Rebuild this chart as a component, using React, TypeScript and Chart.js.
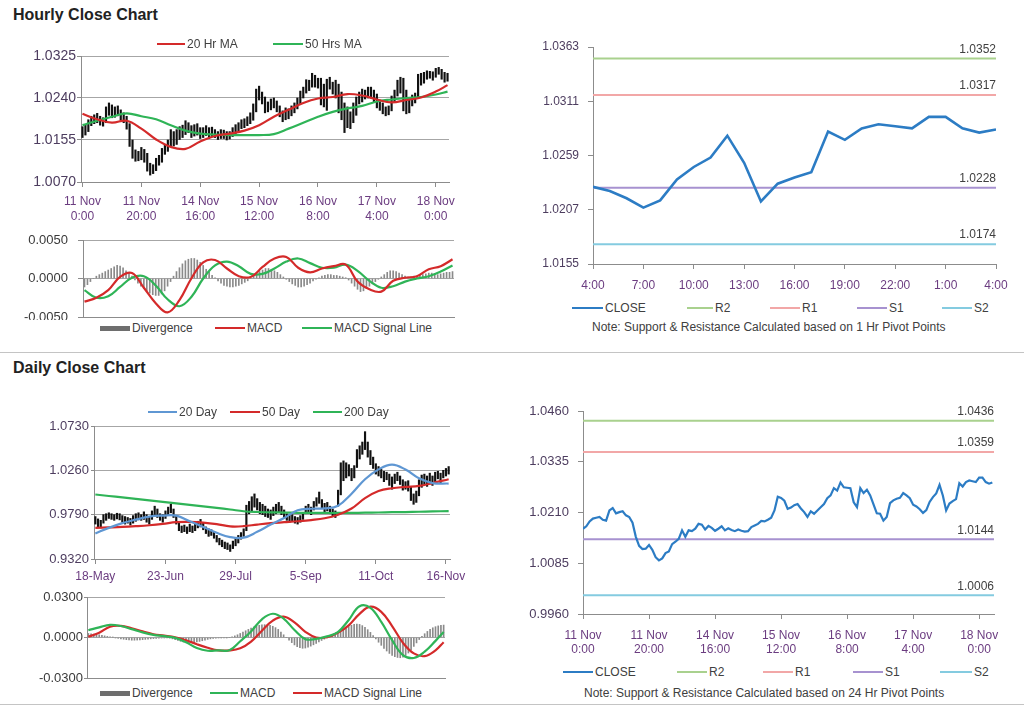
import React, { useEffect, useRef } from 'react';
import { Chart, registerables } from 'chart.js';
Chart.register(...registerables);

const FONT = '"Liberation Sans", Arial, sans-serif';

// ---------- Hourly data (index 0 = 11 Nov 0:00, one bar per hour) ----------
const hourlyClose = [
  1.0170, 1.0176, 1.0188, 1.0195, 1.0197, 1.0199, 1.0192, 1.0190, 1.0215, 1.0221,
  1.0208, 1.0211, 1.0213, 1.0203, 1.0199, 1.0185, 1.0150, 1.0128, 1.0120, 1.0121,
  1.0130, 1.0118, 1.0100, 1.0092, 1.0097, 1.0110, 1.0114, 1.0132, 1.0138, 1.0145,
  1.0166, 1.0150, 1.0166, 1.0164, 1.0170, 1.0182, 1.0180, 1.0168, 1.0177, 1.0172,
  1.0165, 1.0170, 1.0176, 1.0166, 1.0171, 1.0167, 1.0164, 1.0168, 1.0165, 1.0163,
  1.0164, 1.0174, 1.0178, 1.0182, 1.0189, 1.0188, 1.0192, 1.0197, 1.0215, 1.0249,
  1.0246, 1.0239, 1.0219, 1.0222, 1.0228, 1.0231, 1.0220, 1.0211, 1.0199, 1.0213,
  1.0207, 1.0215, 1.0223, 1.0231, 1.0245, 1.0252, 1.0270, 1.0264, 1.0284, 1.0272,
  1.0271, 1.0270, 1.0235, 1.0223, 1.0270, 1.0258, 1.0266, 1.0252, 1.0230, 1.0208,
  1.0207, 1.0190, 1.0199, 1.0233, 1.0240, 1.0244, 1.0246, 1.0258, 1.0252, 1.0245,
  1.0229, 1.0225, 1.0218, 1.0209, 1.0216, 1.0236, 1.0248, 1.0257, 1.0278, 1.0252,
  1.0215, 1.0232, 1.0238, 1.0243, 1.0282, 1.0274, 1.0285, 1.0289, 1.0287, 1.0285,
  1.0296, 1.0296, 1.0285, 1.0281, 1.0284,
];
const hourlyHigh = [
  1.0182, 1.0186, 1.0196, 1.0203, 1.0206, 1.0209, 1.0203, 1.0200, 1.0222, 1.0230,
  1.0226, 1.0222, 1.0224, 1.0216, 1.0210, 1.0203, 1.0188, 1.0155, 1.0135, 1.0132,
  1.0140, 1.0136, 1.0128, 1.0108, 1.0105, 1.0118, 1.0124, 1.0138, 1.0146, 1.0155,
  1.0176, 1.0172, 1.0176, 1.0182, 1.0185, 1.0194, 1.0190, 1.0184, 1.0186, 1.0188,
  1.0180, 1.0180, 1.0184, 1.0180, 1.0181, 1.0176, 1.0172, 1.0176, 1.0175, 1.0172,
  1.0172, 1.0180, 1.0186, 1.0190, 1.0196, 1.0198, 1.0202, 1.0210, 1.0228, 1.0258,
  1.0264, 1.0252, 1.0242, 1.0232, 1.0238, 1.0240, 1.0234, 1.0224, 1.0214, 1.0220,
  1.0218, 1.0224, 1.0230, 1.0240, 1.0254, 1.0262, 1.0277, 1.0276, 1.0290, 1.0286,
  1.0280, 1.0280, 1.0268, 1.0278, 1.0282, 1.0272, 1.0276, 1.0268, 1.0252, 1.0230,
  1.0222, 1.0212, 1.0230, 1.0242, 1.0252, 1.0258, 1.0256, 1.0262, 1.0262, 1.0256,
  1.0248, 1.0236, 1.0230, 1.0222, 1.0224, 1.0244, 1.0256, 1.0276, 1.0282, 1.0280,
  1.0256, 1.0240, 1.0246, 1.0250, 1.0288, 1.0290, 1.0292, 1.0295, 1.0294, 1.0293,
  1.0300, 1.0302, 1.0298, 1.0292, 1.0290,
];
const hourlyLow = [
  1.0160, 1.0165, 1.0172, 1.0184, 1.0188, 1.0190, 1.0185, 1.0183, 1.0190, 1.0205,
  1.0200, 1.0201, 1.0204, 1.0195, 1.0190, 1.0177, 1.0142, 1.0118, 1.0112, 1.0113,
  1.0115, 1.0110, 1.0092, 1.0084, 1.0087, 1.0093, 1.0104, 1.0110, 1.0126, 1.0132,
  1.0142, 1.0143, 1.0146, 1.0156, 1.0160, 1.0166, 1.0170, 1.0160, 1.0163, 1.0165,
  1.0158, 1.0160, 1.0164, 1.0158, 1.0162, 1.0160, 1.0156, 1.0158, 1.0158, 1.0155,
  1.0157, 1.0162, 1.0168, 1.0172, 1.0178, 1.0180, 1.0184, 1.0188, 1.0195, 1.0212,
  1.0236, 1.0228, 1.0210, 1.0212, 1.0216, 1.0220, 1.0212, 1.0202, 1.0192, 1.0196,
  1.0198, 1.0204, 1.0210, 1.0218, 1.0228, 1.0240, 1.0250, 1.0255, 1.0262, 1.0262,
  1.0260, 1.0226, 1.0222, 1.0215, 1.0258, 1.0248, 1.0240, 1.0210, 1.0196, 1.0170,
  1.0180, 1.0178, 1.0190, 1.0205, 1.0228, 1.0232, 1.0238, 1.0240, 1.0240, 1.0232,
  1.0220, 1.0215, 1.0208, 1.0204, 1.0206, 1.0214, 1.0232, 1.0244, 1.0250, 1.0214,
  1.0208, 1.0210, 1.0224, 1.0230, 1.0240, 1.0266, 1.0270, 1.0278, 1.0280, 1.0276,
  1.0282, 1.0288, 1.0278, 1.0272, 1.0274,
];
const hourlyMAIdx = [0, 5, 10, 15, 20, 25, 30, 35, 40, 45, 50, 55, 60, 65, 70, 75, 80, 85, 90, 95, 100, 105, 110, 115, 120, 124];
const hourlyMA20 = [1.0208, 1.0197, 1.0190, 1.0194, 1.0178, 1.0156, 1.0141, 1.0137, 1.0152, 1.0163, 1.0168, 1.0174, 1.0185, 1.0202, 1.0216, 1.0230, 1.0239, 1.0242, 1.0248, 1.0245, 1.0237, 1.0231, 1.0236, 1.0241, 1.0253, 1.0266];
const hourlyMA50 = [1.0185, 1.0194, 1.0202, 1.0209, 1.0203, 1.0197, 1.0185, 1.0174, 1.0168, 1.0166, 1.0165, 1.0165, 1.0165, 1.0167, 1.0178, 1.0190, 1.0202, 1.0212, 1.0219, 1.0224, 1.0233, 1.0237, 1.0240, 1.0242, 1.0247, 1.0253];
const hourlyMacdIdx = [0, 4, 8, 12, 16, 20, 24, 28, 32, 36, 40, 44, 48, 52, 56, 60, 64, 68, 72, 76, 80, 84, 88, 92, 96, 100, 104, 108, 112, 116, 120, 124];
const hourlyMacd = [-0.0030, -0.0025, -0.0015, 0.0002, 0.0007, -0.0012, -0.0032, -0.0044, -0.0028, 0.0000, 0.0021, 0.0024, 0.0013, 0.0003, 0.0002, 0.0015, 0.0026, 0.0028, 0.0014, 0.0008, 0.0013, 0.0016, 0.0018, -0.0004, -0.0014, -0.0017, -0.0003, 0.0001, 0.0003, 0.0012, 0.0016, 0.0025];
const hourlySignal = [-0.0015, -0.0025, -0.0023, -0.0011, 0.0001, 0.0003, -0.0009, -0.0027, -0.0036, -0.0024, 0.0000, 0.0017, 0.0022, 0.0016, 0.0006, 0.0006, 0.0013, 0.0022, 0.0026, 0.0020, 0.0014, 0.0014, 0.0018, 0.0010, -0.0003, -0.0012, -0.0010, -0.0004, 0.0000, 0.0003, 0.0009, 0.0017];
const hourlyDivergence = [
  -0.0011, -0.0008, -0.0004, 0.0000, 0.0003, 0.0005, 0.0007, 0.0009, 0.0011, 0.0013,
  0.0015, 0.0017, 0.0016, 0.0014, 0.0010, 0.0007, 0.0003, -0.0002, -0.0006, -0.0010,
  -0.0013, -0.0016, -0.0019, -0.0021, -0.0022, -0.0022, -0.0020, -0.0016, -0.0010, -0.0004,
  0.0003, 0.0009, 0.0014, 0.0019, 0.0023, 0.0025, 0.0026, 0.0026, 0.0024, 0.0021,
  0.0017, 0.0012, 0.0008, 0.0004, 0.0001, -0.0003, -0.0006, -0.0009, -0.0010, -0.0011,
  -0.0011, -0.0010, -0.0009, -0.0007, -0.0005, -0.0003, 0.0000, 0.0003, 0.0006, 0.0009,
  0.0011, 0.0013, 0.0013, 0.0012, 0.0010, 0.0008, 0.0005, 0.0002, -0.0001, -0.0004,
  -0.0007, -0.0009, -0.0011, -0.0011, -0.0010, -0.0008, -0.0006, -0.0003, -0.0001, 0.0001,
  0.0003, 0.0004, 0.0005, 0.0005, 0.0004, 0.0004, 0.0003, 0.0002, 0.0001, -0.0002,
  -0.0006, -0.0010, -0.0014, -0.0017, -0.0016, -0.0013, -0.0010, -0.0007, -0.0004, -0.0001,
  0.0002, 0.0005, 0.0008, 0.0010, 0.0010, 0.0009, 0.0007, 0.0005, 0.0003, 0.0002,
  0.0002, 0.0003, 0.0003, 0.0004, 0.0005, 0.0006, 0.0007, 0.0007, 0.0006, 0.0005,
  0.0006, 0.0007, 0.0008, 0.0008, 0.0009,
];
const hourlyTickIdx = [0, 20, 40, 60, 80, 100, 120];
const hourlyTickLabels = [['11 Nov', '0:00'], ['11 Nov', '20:00'], ['14 Nov', '16:00'], ['15 Nov', '12:00'], ['16 Nov', '8:00'], ['17 Nov', '4:00'], ['18 Nov', '0:00']];
const hourlyPriceTicks = [1.0070, 1.0155, 1.0240, 1.0325];
const hourlyMacdTicks = [-0.0050, 0.0000, 0.0050];

// ---------- 1 Hr pivot chart (last 24 hours, 4:00 to 4:00) ----------
const sessionStart = 100;
const sessionTickIdx = [0, 3, 6, 9, 12, 15, 18, 21, 24];
const sessionTickLabels = ['4:00', '7:00', '10:00', '13:00', '16:00', '19:00', '22:00', '1:00', '4:00'];
const sessionTicks = [1.0155, 1.0207, 1.0259, 1.0311, 1.0363];
const hourPivots = { R2: 1.0352, R1: 1.0317, S1: 1.0228, S2: 1.0174 };

// ---------- Daily data (index 0 = 18-May, one bar per trading day) ----------
const dailyHigh = [
  0.9770, 0.9745, 0.9730, 0.9790, 0.9800, 0.9810, 0.9800, 0.9790, 0.9805, 0.9800,
  0.9780, 0.9770, 0.9760, 0.9750, 0.9780, 0.9800, 0.9810, 0.9790, 0.9820, 0.9790,
  0.9770, 0.9830, 0.9880, 0.9850, 0.9800, 0.9790, 0.9830, 0.9870, 0.9900, 0.9850,
  0.9780, 0.9710, 0.9670, 0.9680, 0.9660, 0.9690, 0.9670, 0.9700, 0.9720, 0.9740,
  0.9700, 0.9660, 0.9640, 0.9630, 0.9610, 0.9570, 0.9540, 0.9520, 0.9500, 0.9490,
  0.9470, 0.9510, 0.9540, 0.9570, 0.9600, 0.9640, 0.9890, 0.9930, 0.9980, 1.0010,
  0.9960, 0.9920, 0.9900, 0.9880, 0.9850, 0.9840, 0.9870, 0.9900, 0.9920, 0.9880,
  0.9840, 0.9800, 0.9790, 0.9790, 0.9770, 0.9760, 0.9780, 0.9810, 0.9880, 0.9900,
  0.9870, 0.9930, 0.9970, 1.0030, 0.9950, 0.9910, 0.9920, 0.9880, 0.9850, 0.9830,
  1.0050, 1.0340, 1.0360, 1.0340, 1.0320, 1.0280, 1.0310, 1.0480, 1.0520, 1.0560,
  1.0670, 1.0560, 1.0470, 1.0400, 1.0330, 1.0300, 1.0270, 1.0250, 1.0240, 1.0220,
  1.0190, 1.0220, 1.0240, 1.0200, 1.0160, 1.0140, 1.0150, 1.0080, 1.0010, 1.0040,
  1.0160, 1.0210, 1.0220, 1.0200, 1.0230, 1.0200, 1.0240, 1.0250, 1.0230, 1.0260,
  1.0280, 1.0300,
];
const dailyLow = [
  0.9690, 0.9660, 0.9650, 0.9700, 0.9730, 0.9750, 0.9740, 0.9730, 0.9745, 0.9735,
  0.9710, 0.9690, 0.9700, 0.9680, 0.9700, 0.9720, 0.9735, 0.9730, 0.9740, 0.9710,
  0.9690, 0.9740, 0.9790, 0.9760, 0.9730, 0.9710, 0.9750, 0.9780, 0.9810, 0.9760,
  0.9690, 0.9620, 0.9600, 0.9610, 0.9590, 0.9610, 0.9600, 0.9620, 0.9650, 0.9660,
  0.9630, 0.9590, 0.9560, 0.9570, 0.9540, 0.9500, 0.9470, 0.9450, 0.9430, 0.9420,
  0.9400, 0.9430, 0.9460, 0.9490, 0.9530, 0.9560, 0.9620, 0.9800, 0.9830, 0.9870,
  0.9840, 0.9800, 0.9790, 0.9770, 0.9760, 0.9740, 0.9780, 0.9800, 0.9820, 0.9790,
  0.9750, 0.9730, 0.9710, 0.9720, 0.9700, 0.9690, 0.9710, 0.9740, 0.9800, 0.9810,
  0.9790, 0.9840, 0.9880, 0.9910, 0.9860, 0.9820, 0.9830, 0.9800, 0.9770, 0.9760,
  0.9880, 1.0000, 1.0150, 1.0180, 1.0200, 1.0150, 1.0180, 1.0290, 1.0380, 1.0430,
  1.0480, 1.0400, 1.0320, 1.0280, 1.0220, 1.0200, 1.0180, 1.0140, 1.0160, 1.0100,
  1.0060, 1.0120, 1.0150, 1.0110, 1.0050, 1.0060, 1.0040, 0.9940, 0.9900, 0.9920,
  0.9990, 1.0080, 1.0110, 1.0090, 1.0130, 1.0100, 1.0140, 1.0170, 1.0130, 1.0180,
  1.0200, 1.0220,
];
const dailyMAIdx = [0, 5, 10, 15, 20, 25, 30, 35, 40, 45, 50, 55, 60, 65, 70, 75, 80, 85, 90, 95, 100, 105, 110, 115, 120, 125, 131];
const dailyMA20 = [0.9591, 0.9650, 0.9700, 0.9737, 0.9770, 0.9780, 0.9780, 0.9720, 0.9660, 0.9598, 0.9552, 0.9546, 0.9608, 0.9685, 0.9754, 0.9836, 0.9853, 0.9856, 0.9885, 1.0012, 1.0165, 1.0270, 1.0320, 1.0268, 1.0175, 1.0125, 1.0120];
const dailyMA50 = [0.9651, 0.9655, 0.9660, 0.9668, 0.9678, 0.9692, 0.9710, 0.9713, 0.9706, 0.9690, 0.9666, 0.9668, 0.9685, 0.9700, 0.9710, 0.9720, 0.9733, 0.9752, 0.9790, 0.9855, 0.9965, 1.0040, 1.0070, 1.0084, 1.0095, 1.0125, 1.0166];
const dailyMA200 = [1.0004, 0.9988, 0.9973, 0.9957, 0.9942, 0.9926, 0.9910, 0.9894, 0.9878, 0.9862, 0.9845, 0.9826, 0.9818, 0.9815, 0.9812, 0.9810, 0.9809, 0.9808, 0.9808, 0.9809, 0.9811, 0.9813, 0.9816, 0.9818, 0.9821, 0.9824, 0.9828];
const dailyMacdIdx = [0, 4, 8, 12, 16, 20, 24, 28, 32, 36, 40, 44, 48, 52, 56, 60, 64, 68, 72, 76, 80, 84, 88, 92, 96, 100, 104, 108, 112, 116, 120, 124, 128, 131];
const dailyMacd = [0.0054, 0.0075, 0.0094, 0.0085, 0.0062, 0.0038, 0.0020, 0.0010, -0.0003, -0.0035, -0.0078, -0.0098, -0.0095, -0.0095, -0.0028, 0.0045, 0.0135, 0.0176, 0.0140, 0.0055, -0.0012, -0.0010, 0.0008, 0.0040, 0.0130, 0.0232, 0.0220, 0.0115, -0.0020, -0.0130, -0.0152, -0.0105, -0.0025, 0.0040];
const dailySignal = [0.0005, 0.0035, 0.0080, 0.0086, 0.0068, 0.0045, 0.0024, 0.0014, 0.0002, -0.0020, -0.0050, -0.0076, -0.0095, -0.0096, -0.0080, -0.0030, 0.0050, 0.0125, 0.0155, 0.0112, 0.0042, 0.0000, 0.0002, 0.0035, 0.0090, 0.0175, 0.0228, 0.0190, 0.0085, -0.0040, -0.0118, -0.0138, -0.0095, -0.0035];
const dailyDivergence = [
  0.0030, 0.0028, 0.0025, 0.0022, 0.0020, 0.0016, 0.0012, 0.0008, 0.0005, 0.0002,
  -0.0003, -0.0006, -0.0010, -0.0013, -0.0016, -0.0018, -0.0020, -0.0020, -0.0019, -0.0018,
  -0.0016, -0.0014, -0.0012, -0.0010, -0.0008, -0.0006, -0.0005, -0.0004, -0.0003, -0.0003,
  -0.0005, -0.0010, -0.0016, -0.0022, -0.0028, -0.0033, -0.0036, -0.0038, -0.0038, -0.0036,
  -0.0033, -0.0029, -0.0024, -0.0019, -0.0014, -0.0010, -0.0007, -0.0005, -0.0003, -0.0002,
  -0.0002, -0.0001, 0.0000, 0.0005, 0.0012, 0.0020, 0.0030, 0.0040, 0.0050, 0.0060,
  0.0070, 0.0078, 0.0085, 0.0090, 0.0093, 0.0095, 0.0094, 0.0090, 0.0083, 0.0073,
  0.0060, 0.0040, 0.0020, 0.0000, -0.0020, -0.0038, -0.0055, -0.0068, -0.0076, -0.0080,
  -0.0078, -0.0072, -0.0064, -0.0054, -0.0044, -0.0033, -0.0022, -0.0012, -0.0004, 0.0004,
  0.0012, 0.0020, 0.0030, 0.0042, 0.0055, 0.0068, 0.0080, 0.0090, 0.0098, 0.0100,
  0.0097, 0.0088, 0.0075, 0.0058, 0.0038, 0.0015, -0.0010, -0.0035, -0.0058, -0.0080,
  -0.0100, -0.0118, -0.0132, -0.0142, -0.0148, -0.0150, -0.0145, -0.0133, -0.0115, -0.0092,
  -0.0066, -0.0040, -0.0015, 0.0008, 0.0028, 0.0045, 0.0060, 0.0072, 0.0080, 0.0086,
  0.0090, 0.0092,
];
const dailyTickIdx = [0, 26, 52, 78, 104, 130];
const dailyTickLabels = ['18-May', '23-Jun', '29-Jul', '5-Sep', '11-Oct', '16-Nov'];
const dailyPriceTicks = [0.9320, 0.9790, 1.0260, 1.0730];
const dailyMacdTicks = [-0.0300, 0.0000, 0.0300];

// ---------- 24 Hr pivot chart (hourly close, 11 Nov 0:00 onward) ----------
const dayPivotTicks = [0.9960, 1.0085, 1.0210, 1.0335, 1.0460];
const dayPivots = { R2: 1.0436, R1: 1.0359, S1: 1.0144, S2: 1.0006 };

// ---------- colours ----------
const RED = '#d42a2a';
const GREEN = '#2fb457';
const BLUE = '#2c7cc4';
const BLUE_MA = '#5f97d3';
const R2C = '#a9d18e';
const R1C = '#f2a7a7';
const S1C = '#a792d0';
const S2C = '#84cbe0';
const GRID = '#a6a6a6';
const AXIS = '#8c8c8c';
const YLAB = '#4d3d5f';
const XLAB = '#6b3c80';
const TEXT = '#404040';

const pts = (xs: number[], ys: number[]) => xs.map((x, i) => ({ x, y: ys[i] }));
const fixedTicks = (values: number[]) => (scale: any) => {
  scale.ticks = values.map((v) => ({ value: v }));
};

const endLabelPlugin = {
  id: 'endLabel',
  afterDatasetsDraw(chart: any) {
    const { ctx, chartArea, scales } = chart;
    chart.data.datasets.forEach((ds: any) => {
      if (ds.endLabel == null) return;
      const y = scales.y.getPixelForValue(ds.endLabel);
      ctx.save();
      ctx.font = `12px ${FONT}`;
      ctx.fillStyle = TEXT;
      ctx.textAlign = 'right';
      ctx.textBaseline = 'bottom';
      ctx.fillText(ds.endLabel.toFixed(4), chartArea.right, y - 3);
      ctx.restore();
    });
  },
};

const lineDs = (data: any[], color: string, width = 2, tension = 0.4) => ({
  type: 'line',
  data,
  borderColor: color,
  backgroundColor: color,
  borderWidth: width,
  pointRadius: 0,
  tension,
  fill: false,
});

function baseOptions(pad: any) {
  return {
    animation: false,
    responsive: false,
    maintainAspectRatio: false,
    events: [],
    layout: { padding: pad, autoPadding: false },
    plugins: { legend: { display: false }, tooltip: { enabled: false } },
  };
}

function xAxis(min: number, max: number, tickIdx: number[], labels: any[], height: number, pad: number, lineHeight = 1.2) {
  return {
    type: 'linear',
    min,
    max,
    offset: false,
    afterBuildTicks: fixedTicks(tickIdx),
    afterFit: (s: any) => { s.height = height; s.paddingLeft = 0; s.paddingRight = 0; },
    grid: { drawOnChartArea: false, drawTicks: true, tickLength: 5, tickColor: AXIS, offset: false },
    border: { display: true, color: AXIS },
    ticks: {
      autoSkip: false, maxRotation: 0, minRotation: 0, padding: pad, color: XLAB,
      font: { family: FONT, size: 12, lineHeight },
      callback: (_v: any, i: number) => labels[i],
    },
  };
}

function xAxisHidden(min: number, max: number, height: number) {
  return {
    type: 'linear', min, max, offset: false,
    afterFit: (s: any) => { s.height = height; s.paddingLeft = 0; s.paddingRight = 0; },
    grid: { display: false, offset: false },
    border: { display: true, color: AXIS },
    ticks: { display: false },
  };
}

function yAxis(ticks: number[], width: number, opts: any) {
  return {
    min: ticks[0],
    max: ticks[ticks.length - 1],
    afterBuildTicks: fixedTicks(ticks),
    afterFit: (s: any) => { s.width = width; s.paddingTop = 0; s.paddingBottom = 0; },
    grid: { drawOnChartArea: opts.grid, color: GRID, drawTicks: true, tickLength: opts.tickLength, tickColor: AXIS },
    border: { display: true, color: AXIS },
    ticks: {
      padding: opts.padding, color: opts.color || YLAB,
      font: { family: FONT, size: opts.size },
      callback: (v: number) => v.toFixed(4),
    },
  };
}

const configs: Record<string, () => any> = {
  hourlyPrice: () => ({
    type: 'bar',
    data: {
      datasets: [
        lineDs(pts(hourlyMAIdx, hourlyMA20), RED, 2.2),
        lineDs(pts(hourlyMAIdx, hourlyMA50), GREEN, 2.2),
        {
          type: 'bar',
          data: hourlyLow.map((lo, i) => ({ x: i, y: [lo, hourlyHigh[i]] })),
          backgroundColor: '#111',
          barThickness: 1.5,
        },
      ],
    },
    options: {
      ...baseOptions({ left: 0, right: 21, top: 6, bottom: 0 }),
      scales: {
        x: xAxis(-0.5, 124.5, hourlyTickIdx, hourlyTickLabels, 48, 7, 1.25),
        y: yAxis(hourlyPriceTicks, 81, { grid: true, tickLength: 4, padding: 1, size: 14 }),
      },
    },
  }),
  hourlyMacd: () => ({
    type: 'bar',
    data: {
      datasets: [
        lineDs(pts(hourlyMacdIdx, hourlyMacd), RED, 2.2),
        lineDs(pts(hourlyMacdIdx, hourlySignal), GREEN, 2.2),
        {
          type: 'bar',
          data: hourlyDivergence.map((v, i) => ({ x: i, y: v })),
          backgroundColor: '#8a8a8a',
          barThickness: 1,
        },
      ],
    },
    options: {
      ...baseOptions({ left: 0, right: 8, top: 8, bottom: 0 }),
      scales: {
        x: xAxisHidden(-0.5, 124.5, 3),
        y: yAxis(hourlyMacdTicks, 83, { grid: true, tickLength: 5, padding: 10, size: 13, color: '#3a3a3a' }),
      },
    },
  }),
  sessionPivot: () => {
    const close = hourlyClose.slice(sessionStart);
    const last = close.length - 1;
    const level = (v: number, c: string) => ({ ...lineDs([{ x: 0, y: v }, { x: last, y: v }], c, 2, 0), endLabel: v });
    return {
      type: 'line',
      data: {
        datasets: [
          lineDs(close.map((v, i) => ({ x: i, y: v })), BLUE, 2.6, 0),
          level(hourPivots.R2, R2C),
          level(hourPivots.R1, R1C),
          level(hourPivots.S1, S1C),
          level(hourPivots.S2, S2C),
        ],
      },
      options: {
        ...baseOptions({ left: 0, right: 14, top: 11, bottom: 0 }),
        scales: {
          x: xAxis(0, 24, sessionTickIdx, sessionTickLabels, 28, 9),
          y: yAxis(sessionTicks, 93, { grid: false, tickLength: 5, padding: 9, size: 12 }),
        },
      },
      plugins: [endLabelPlugin],
    };
  },
  dailyPrice: () => ({
    type: 'bar',
    data: {
      datasets: [
        lineDs(pts(dailyMAIdx, dailyMA20), BLUE_MA, 2.2),
        lineDs(pts(dailyMAIdx, dailyMA50), RED, 2.2),
        lineDs(pts(dailyMAIdx, dailyMA200), GREEN, 2.2),
        {
          type: 'bar',
          data: dailyLow.map((lo, i) => ({ x: i, y: [lo, dailyHigh[i]] })),
          backgroundColor: '#111',
          barThickness: 1.5,
        },
      ],
    },
    options: {
      ...baseOptions({ left: 0, right: 25, top: 8, bottom: 0 }),
      scales: {
        x: xAxis(-0.5, 131.5, dailyTickIdx, dailyTickLabels, 31, 5),
        y: yAxis(dailyPriceTicks, 94, { grid: true, tickLength: 3, padding: 2, size: 13 }),
      },
    },
  }),
  dailyMacd: () => ({
    type: 'bar',
    data: {
      datasets: [
        lineDs(pts(dailyMacdIdx, dailyMacd), GREEN, 2.2),
        lineDs(pts(dailyMacdIdx, dailySignal), RED, 2.2),
        {
          type: 'bar',
          data: dailyDivergence.map((v, i) => ({ x: i, y: v })),
          backgroundColor: '#8a8a8a',
          barThickness: 1,
        },
      ],
    },
    options: {
      ...baseOptions({ left: 0, right: 10, top: 7, bottom: 0 }),
      scales: {
        x: xAxisHidden(-0.5, 131.5, 4),
        y: yAxis(dailyMacdTicks, 87, { grid: true, tickLength: 3, padding: 1, size: 13, color: '#3a3a3a' }),
      },
    },
  }),
  dayPivot: () => {
    const last = hourlyClose.length - 1;
    const level = (v: number, c: string) => ({ ...lineDs([{ x: 0, y: v }, { x: last + 0.5, y: v }], c, 2, 0), endLabel: v });
    return {
      type: 'line',
      data: {
        datasets: [
          lineDs(hourlyClose.map((v, i) => ({ x: i, y: v })), BLUE, 2.2, 0),
          level(dayPivots.R2, R2C),
          level(dayPivots.R1, R1C),
          level(dayPivots.S1, S1C),
          level(dayPivots.S2, S2C),
        ],
      },
      options: {
        ...baseOptions({ left: 0, right: 16, top: 11, bottom: 0 }),
        scales: {
          x: xAxis(0, last + 0.5, hourlyTickIdx, hourlyTickLabels, 46, 10, 1.17),
          y: yAxis(dayPivotTicks, 93, { grid: false, tickLength: 5, padding: 9, size: 13 }),
        },
      },
      plugins: [endLabelPlugin],
    };
  },
};

function ChartBox({ name, left, top, width, height }: { name: string; left: number; top: number; width: number; height: number }) {
  const ref = useRef<HTMLCanvasElement>(null);
  useEffect(() => {
    const chart = new Chart(ref.current as HTMLCanvasElement, configs[name]());
    return () => chart.destroy();
  }, [name]);
  return (
    <canvas
      ref={ref}
      width={width}
      height={height}
      style={{ position: 'absolute', left, top, width, height, display: 'block' }}
    />
  );
}

type LegendEntry = { x: number; w: number; color: string; label: string; bar?: boolean; thick?: number };

function Legend({ y, items }: { y: number; items: LegendEntry[] }) {
  return (
    <>
      {items.map((it) => (
        <div
          key={it.label}
          style={{
            position: 'absolute', left: it.x, top: y - 8, height: 16,
            display: 'flex', alignItems: 'center', whiteSpace: 'nowrap',
            font: `12px ${FONT}`, color: TEXT,
          }}
        >
          <div style={{ width: it.w, height: it.bar ? 5 : it.thick || 2, background: it.color, marginRight: 2 }} />
          <span>{it.label}</span>
        </div>
      ))}
    </>
  );
}

const titleStyle: React.CSSProperties = {
  position: 'absolute', left: 13, font: `bold 16px ${FONT}`, lineHeight: '16px', color: '#222', whiteSpace: 'nowrap',
};
const noteStyle: React.CSSProperties = {
  position: 'absolute', font: `12px ${FONT}`, lineHeight: '14px', color: TEXT, whiteSpace: 'nowrap',
};

export default function App() {
  return (
    <div style={{ position: 'absolute', left: 0, top: 0, width: 1024, height: 706, background: '#fff', overflow: 'hidden' }}>
      <div style={{ ...titleStyle, top: 7 }}>Hourly Close Chart</div>
      <div style={{ ...titleStyle, top: 360 }}>Daily Close Chart</div>
      <div style={{ position: 'absolute', left: 0, top: 352, width: 1024, height: 1, background: '#c4c4c4' }} />
      <div style={{ position: 'absolute', left: 0, top: 704, width: 1024, height: 1, background: '#c4c4c4' }} />

      <ChartBox name="hourlyPrice" left={0} top={50} width={470} height={180} />
      <ChartBox name="hourlyMacd" left={0} top={232} width={462} height={88} />
      <ChartBox name="sessionPivot" left={500} top={36} width={510} height={256} />
      <ChartBox name="dailyPrice" left={0} top={418} width={475} height={172} />
      <ChartBox name="dailyMacd" left={0} top={590} width={455} height={92} />
      <ChartBox name="dayPivot" left={490} top={400} width={520} height={260} />

      <Legend y={44} items={[
        { x: 157, w: 28, color: RED, label: '20 Hr MA' },
        { x: 273, w: 30, color: GREEN, label: '50 Hrs MA' },
      ]} />
      <Legend y={328} items={[
        { x: 100, w: 30, color: '#6e6e6e', label: 'Divergence', bar: true },
        { x: 215, w: 30, color: RED, label: 'MACD' },
        { x: 302, w: 30, color: GREEN, label: 'MACD Signal Line' },
      ]} />
      <Legend y={308} items={[
        { x: 572, w: 31, color: BLUE, label: 'CLOSE', thick: 2.5 },
        { x: 687, w: 26, color: R2C, label: 'R2' },
        { x: 770, w: 30, color: R1C, label: 'R1' },
        { x: 857, w: 30, color: S1C, label: 'S1' },
        { x: 942, w: 30, color: S2C, label: 'S2' },
      ]} />
      <div style={{ ...noteStyle, left: 592, top: 320 }}>Note: Support &amp; Resistance Calculated based on 1 Hr Pivot Points</div>

      <Legend y={412} items={[
        { x: 148, w: 29, color: BLUE_MA, label: '20 Day' },
        { x: 230, w: 30, color: RED, label: '50 Day' },
        { x: 313, w: 29, color: GREEN, label: '200 Day' },
      ]} />
      <Legend y={693} items={[
        { x: 100, w: 30, color: '#6e6e6e', label: 'Divergence', bar: true },
        { x: 210, w: 28, color: GREEN, label: 'MACD' },
        { x: 293, w: 29, color: RED, label: 'MACD Signal Line' },
      ]} />
      <Legend y={672} items={[
        { x: 563, w: 30, color: BLUE, label: 'CLOSE', thick: 2.5 },
        { x: 677, w: 30, color: R2C, label: 'R2' },
        { x: 763, w: 30, color: R1C, label: 'R1' },
        { x: 853, w: 30, color: S1C, label: 'S1' },
        { x: 940, w: 32, color: S2C, label: 'S2' },
      ]} />
      <div style={{ ...noteStyle, left: 584, top: 686 }}>Note: Support &amp; Resistance Calculated based on 24 Hr Pivot Points</div>
    </div>
  );
}
